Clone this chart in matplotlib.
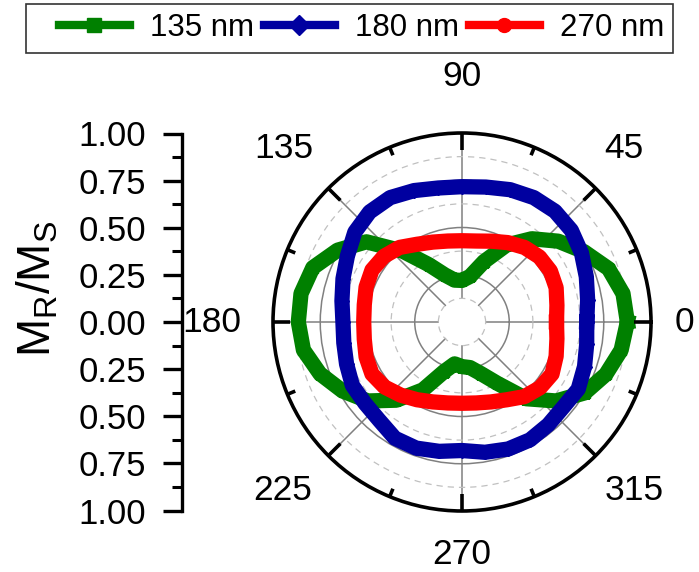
import numpy as np
import matplotlib
matplotlib.use("Agg")
import matplotlib.pyplot as plt
from matplotlib.lines import Line2D
from matplotlib.legend_handler import HandlerLine2D

plt.rcParams['font.family'] = ['Liberation Sans', 'DejaVu Sans']
plt.rcParams['mathtext.fontset'] = 'custom'
plt.rcParams['mathtext.rm'] = 'Liberation Sans'

# angle in degrees, M_R/M_S
angle_deg = list(range(0, 360, 10))
mr_135 = [0.875, 0.865, 0.825, 0.745, 0.665, 0.575, 0.47, 0.34, 0.245, 0.22,
          0.225, 0.265, 0.35, 0.49, 0.66, 0.76, 0.84, 0.865,
          0.866, 0.852, 0.80, 0.73, 0.65, 0.54, 0.415, 0.28, 0.225, 0.236,
          0.245, 0.29, 0.375, 0.53, 0.65, 0.75, 0.81, 0.855]
mr_180 = [0.66, 0.675, 0.70, 0.73, 0.755, 0.765, 0.76, 0.745, 0.725, 0.716,
          0.72, 0.74, 0.76, 0.76, 0.74, 0.70, 0.67, 0.645,
          0.63, 0.635, 0.65, 0.67, 0.67, 0.68, 0.71, 0.71, 0.695, 0.68,
          0.70, 0.715, 0.72, 0.71, 0.70, 0.71, 0.69, 0.67]
mr_270 = [0.50, 0.51, 0.53, 0.54, 0.535, 0.515, 0.485, 0.455, 0.435, 0.43,
          0.435, 0.45, 0.475, 0.515, 0.54, 0.55, 0.54, 0.525,
          0.52, 0.525, 0.54, 0.55, 0.535, 0.505, 0.475, 0.45, 0.435, 0.43,
          0.435, 0.45, 0.475, 0.515, 0.54, 0.55, 0.53, 0.51]

labels = ["135 nm", "180 nm", "270 nm"]
colors = ["#008000", "#0000A0", "#FF0000"]
markers = ["s", "D", "o"]

angle_labels = ["0", "45", "90", "135", "180", "225", "270", "315"]
mr_ticks = ["1.00", "0.75", "0.50", "0.25", "0.00", "0.25", "0.50", "0.75", "1.00"]

W, H = 699, 572
fig = plt.figure(figsize=(W / 100, H / 100), dpi=100)

# polar plot
cx, cy, R = 462, 322, 189
ax = fig.add_axes([(cx - R) / W, (H - cy - R) / H, 2 * R / W, 2 * R / H], projection='polar')
ax.set_ylim(0, 1)
ax.grid(False)

# circles: solid major, dashed minor
ax.set_yticks([0.125, 0.25, 0.375, 0.5, 0.625, 0.75, 0.875])
ax.set_yticklabels([])
ax.yaxis.grid(True)
for i, gl in enumerate(ax.yaxis.get_gridlines()):
    if i % 2 == 0:
        gl.set_color("#c0c0c0")
        gl.set_linestyle((0, (5, 4)))
        gl.set_linewidth(0.9)
    else:
        gl.set_color("#808080")
        gl.set_linestyle("-")
        gl.set_linewidth(1.1)
ax.tick_params(axis='y', length=0)
ax.set_xticks([])

# radial lines
for a in range(0, 360, 45):
    t = np.deg2rad(a)
    ax.plot([t, t], [0.125, 1.0], color="#808080", lw=1.1, zorder=1)

theta = np.deg2rad(np.append(angle_deg, angle_deg[0]))
for vals, lab, c, m in zip([mr_135, mr_180, mr_270], labels, colors, markers):
    r = np.append(vals, vals[0])
    ax.plot(theta, r, color=c, lw=11, marker=m, markersize=7,
            markeredgecolor=c, solid_joinstyle='round', zorder=3)

# ticks on the outer circle (inward)
for a in np.arange(0, 360, 22.5):
    t = np.deg2rad(a)
    inner = 0.91 if a % 45 == 0 else 0.955
    ax.plot([t, t], [inner, 1.0], color='k', lw=2.6, solid_capstyle='butt',
            zorder=5, clip_on=False)
ax.spines['polar'].set_linewidth(2.6)
ax.spines['polar'].set_zorder(6)

# angle labels
label_pos = [(684, 322), (624, 149), (462, 77), (284, 149),
             (212, 322), (283, 490), (462, 555), (634, 490)]
for txt, (px, py) in zip(angle_labels, label_pos):
    fig.text(px / W, 1 - py / H, txt, ha='center', va='center', fontsize=25.5)

# left linear axis
lax = fig.add_axes([182 / W, (H - 322 - 188.5) / H, 0.02, 377 / H])
lax.set_ylim(-1, 1)
lax.patch.set_visible(False)
for s in ['top', 'right', 'bottom']:
    lax.spines[s].set_visible(False)
lax.spines['left'].set_linewidth(2.4)
lax.set_xticks([])
lax.set_yticks(np.linspace(1, -1, 9))
lax.set_yticklabels(mr_ticks, fontsize=25)
lax.set_yticks(np.arange(-0.875, 0.9, 0.25), minor=True)
lax.tick_params(axis='y', which='major', direction='out', length=14, width=2.4, pad=12)
lax.tick_params(axis='y', which='minor', direction='out', length=7, width=2.2)

fig.text(38 / W, 1 - 289 / H, r'$\mathregular{M_R/M_S}$', rotation=90,
         ha='center', va='center', fontsize=33)

# legend
handles = [Line2D([], [], color=c, lw=6, marker=m, markersize=10, markeredgecolor=c)
           for c, m in zip(colors, markers)]
hmap = {h: HandlerLine2D(xpad=0.76) for h in handles}
leg = fig.legend(handles, labels, loc='upper center', bbox_to_anchor=(349.5 / W, 1 - 4 / H),
                 ncol=3, fontsize=22.5, frameon=True, fancybox=False, edgecolor='k',
                 handlelength=3.03, handletextpad=0.64, columnspacing=-0.44,
                 borderpad=0.3, borderaxespad=0, handler_map=hmap)
leg.get_frame().set_linewidth(1.2)

fig.savefig("out.png", dpi=100)
